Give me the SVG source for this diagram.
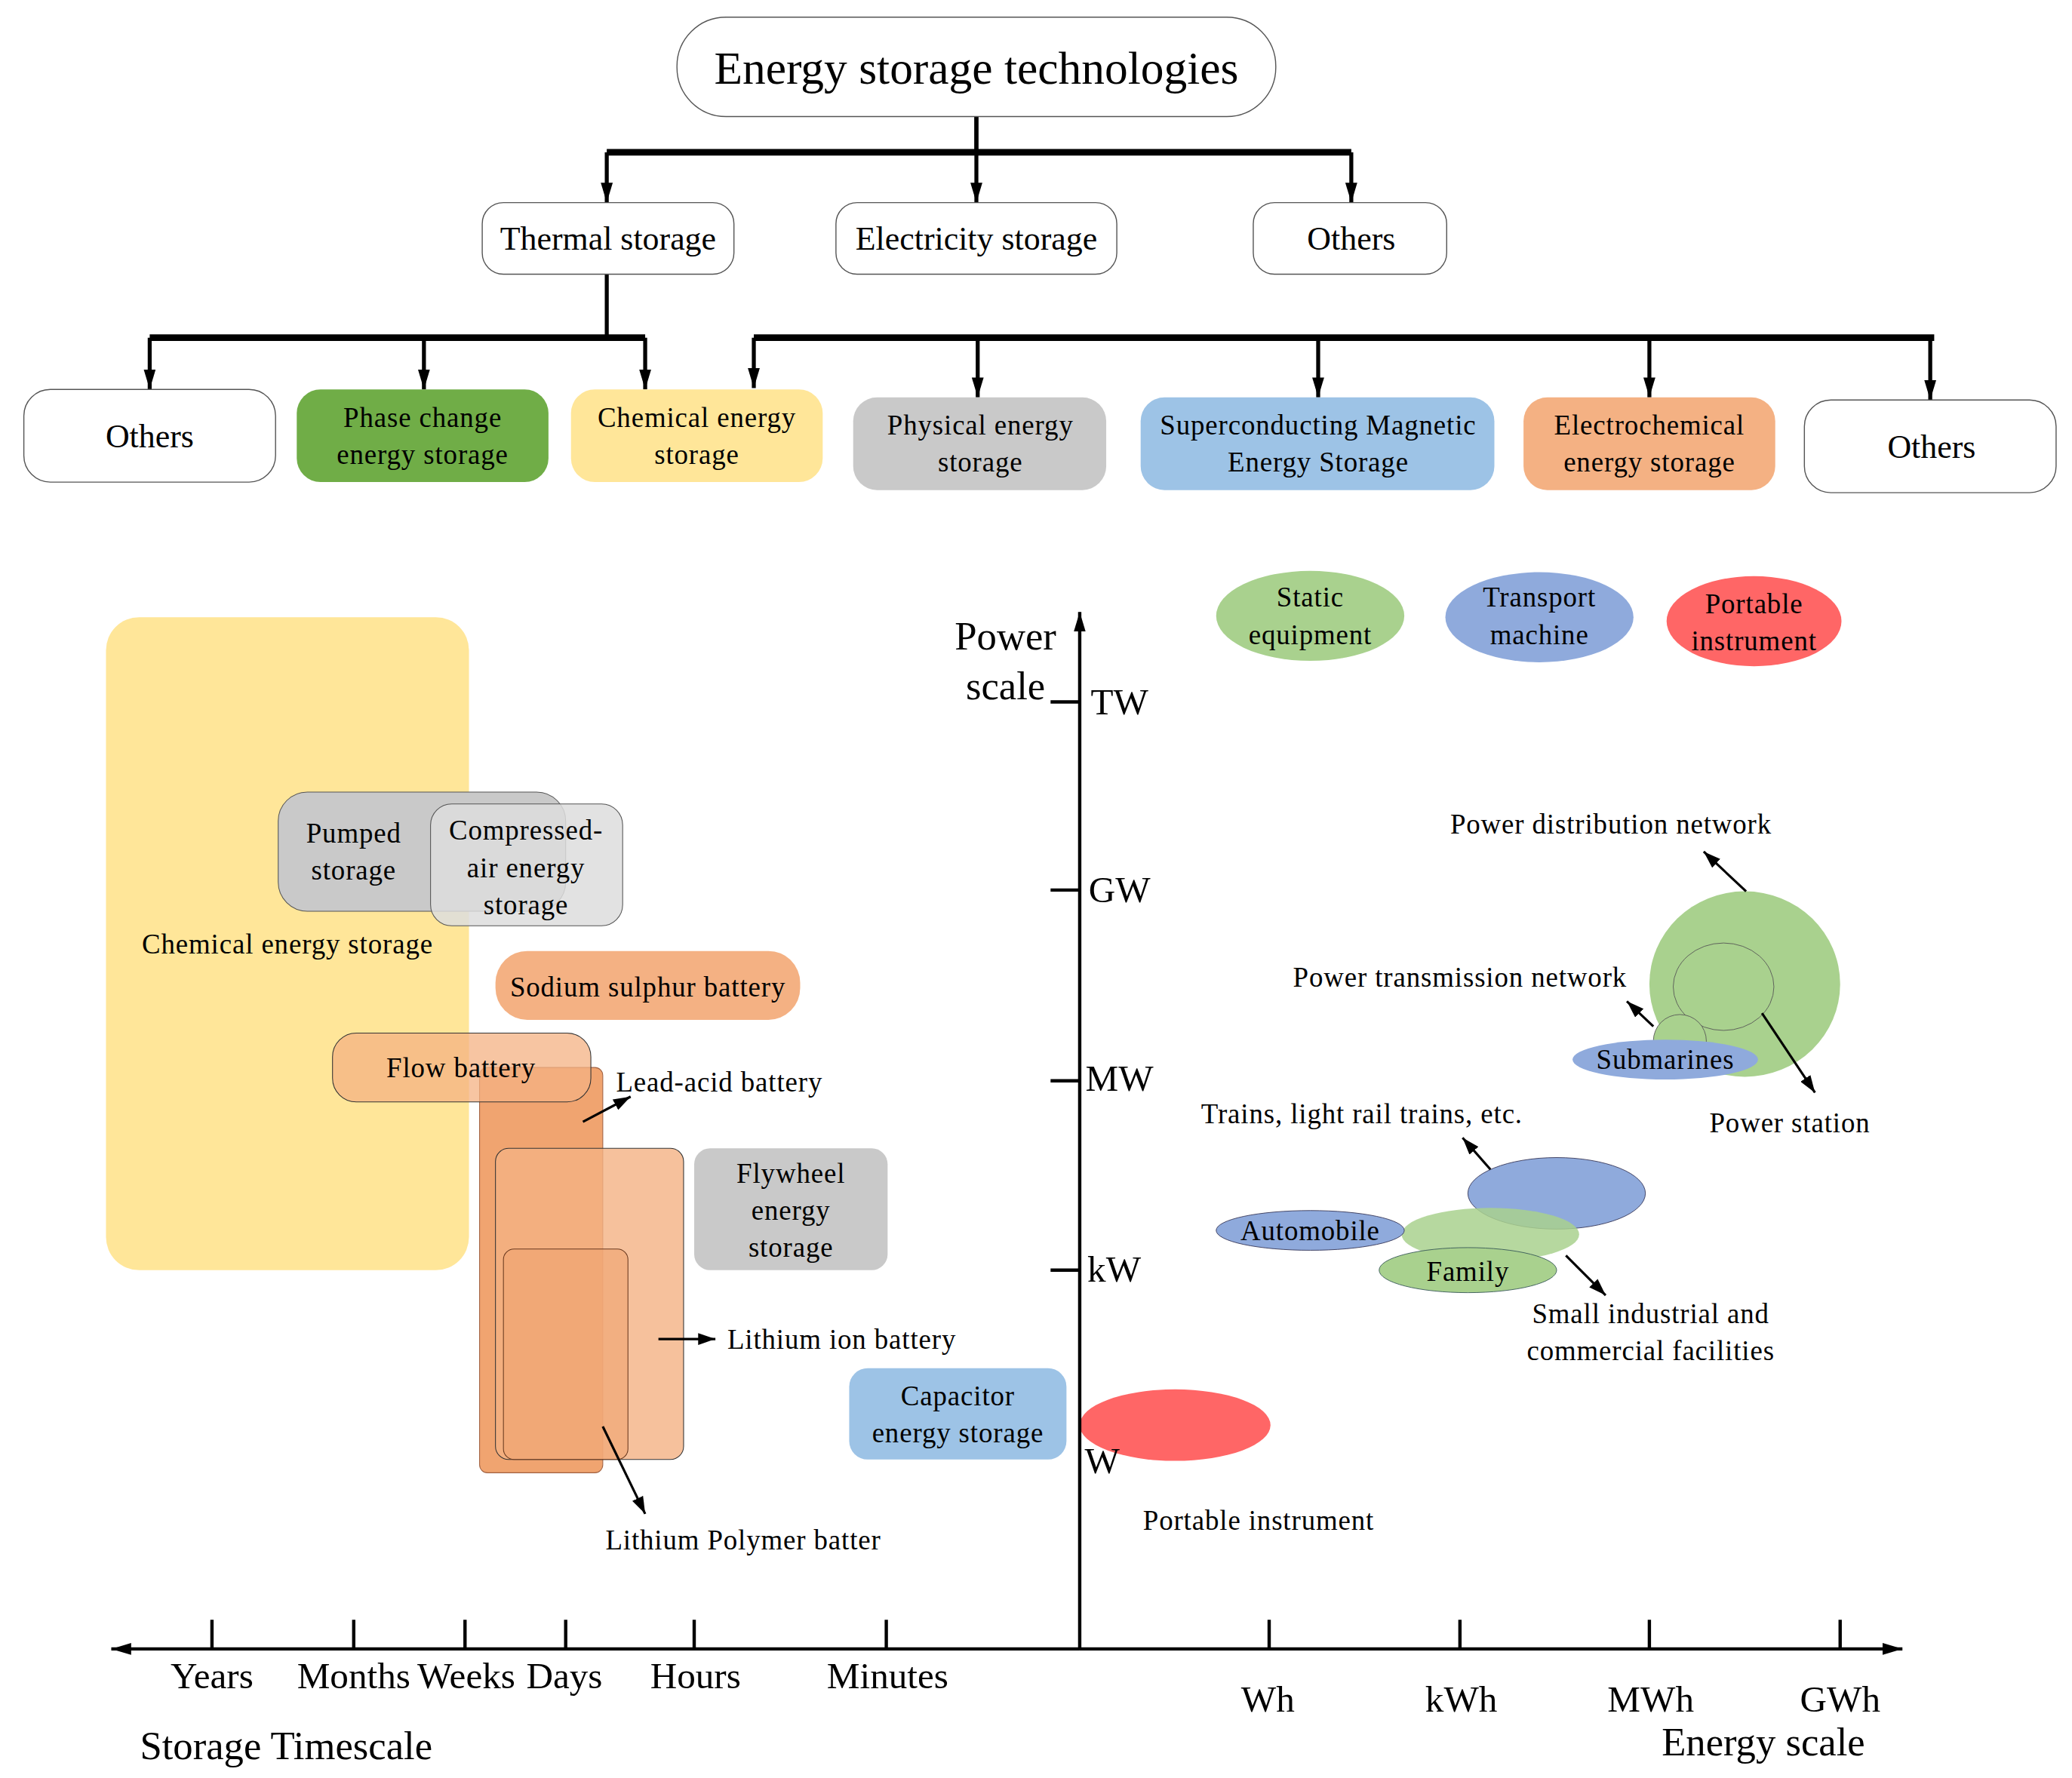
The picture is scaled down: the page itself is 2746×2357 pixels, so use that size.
<svg xmlns="http://www.w3.org/2000/svg" width="2746" height="2357" viewBox="0 0 2746 2357">
<style>
text{font-family:"Liberation Serif","Times New Roman",serif;fill:#000;text-anchor:middle;dominant-baseline:central}
.b{stroke:#555;stroke-width:0.8;fill:#fff}
.t{font-size:25px}
.s{font-size:21px;letter-spacing:0.5px}
.a{font-size:28px}
.c{stroke:#000;stroke-width:3;fill:none}
.th{stroke:#000;stroke-width:5;fill:none}
.ar{stroke:#000;stroke-width:1.8;fill:none}
</style>
<defs>
<marker id="m" viewBox="0 0 10 10" refX="10" refY="5" markerWidth="13" markerHeight="9" orient="auto" markerUnits="userSpaceOnUse" preserveAspectRatio="none"><path d="M0,0L10,5L0,10z"/></marker>
<marker id="mb" viewBox="0 0 10 10" refX="10" refY="5" markerWidth="15" markerHeight="9" orient="auto" markerUnits="userSpaceOnUse" preserveAspectRatio="none"><path d="M0,0L10,5L0,10z"/></marker>
</defs>
<rect width="2746" height="2357" fill="#fff"/>
<g transform="scale(1.75575)">
<g id="connectors">
<path class="c" d="M737,88V115"/>
<path class="th" d="M458,115H1020"/>
<path class="c" d="M458,115V153" marker-end="url(#mb)"/>
<path class="c" d="M737,88V153" marker-end="url(#mb)"/>
<path class="c" d="M1020,115V153" marker-end="url(#mb)"/>
<path class="c" d="M458,207V255"/>
<path class="th" d="M113,255H487M569,255H1460"/>
<path class="c" d="M113,255V294" marker-end="url(#mb)"/>
<path class="c" d="M320,255V294" marker-end="url(#mb)"/>
<path class="c" d="M487,255V294" marker-end="url(#mb)"/>
<path class="c" d="M569,255V293" marker-end="url(#mb)"/>
<path class="c" d="M738,255V300" marker-end="url(#mb)"/>
<path class="c" d="M995,255V300" marker-end="url(#mb)"/>
<path class="c" d="M1245,255V300" marker-end="url(#mb)"/>
<path class="c" d="M1457,255V302" marker-end="url(#mb)"/>
</g>
<g id="n0"><rect class="b" x="511" y="13" width="452" height="75" rx="37"/><text x="737" y="51" font-size="35">Energy storage technologies</text></g>
<g id="n1"><rect class="b" x="364" y="153" width="190" height="54" rx="16"/><text class="t" x="459" y="180">Thermal storage</text></g>
<g id="n2"><rect class="b" x="631" y="153" width="212" height="54" rx="16"/><text class="t" x="737" y="180">Electricity storage</text></g>
<g id="n3"><rect class="b" x="946" y="153" width="146" height="54" rx="16"/><text class="t" x="1020" y="180">Others</text></g>
<g id="n4"><rect class="b" x="18" y="294" width="190" height="70" rx="20"/><text class="t" x="113" y="329">Others</text></g>
<g id="n5"><rect x="224" y="294" width="190" height="70" rx="18" fill="#70AD47"/><text class="s" x="319" y="315">Phase change</text><text class="s" x="319" y="343">energy storage</text></g>
<g id="n6"><rect x="431" y="294" width="190" height="70" rx="18" fill="#FFE699"/><text class="s" x="526" y="315">Chemical energy</text><text class="s" x="526" y="343">storage</text></g>
<g id="n7"><rect x="644" y="300" width="191" height="70" rx="18" fill="#C9C9C9"/><text class="s" x="740" y="321">Physical energy</text><text class="s" x="740" y="349">storage</text></g>
<g id="n8"><rect x="861" y="300" width="267" height="70" rx="18" fill="#9DC3E6"/><text class="s" x="995" y="321">Superconducting Magnetic</text><text class="s" x="995" y="349">Energy Storage</text></g>
<g id="n9"><rect x="1150" y="300" width="190" height="70" rx="18" fill="#F4B183"/><text class="s" x="1245" y="321">Electrochemical</text><text class="s" x="1245" y="349">energy storage</text></g>
<g id="n10"><rect class="b" x="1362" y="302" width="190" height="70" rx="20"/><text class="t" x="1458" y="337">Others</text></g>

<g id="chart">
<rect x="80" y="466" width="274" height="493" rx="25" fill="#FFE699"/>
<text class="s" x="217" y="713">Chemical energy storage</text>
<rect x="210" y="598" width="217" height="90" rx="22" fill="#C9C9C9" stroke="#555" stroke-width="0.6"/>
<rect x="325" y="607" width="145" height="92" rx="16" fill="#DDDDDD" fill-opacity="0.85" stroke="#555" stroke-width="0.6"/>
<text class="s" x="267" y="629">Pumped</text><text class="s" x="267" y="657">storage</text>
<text class="s" x="397" y="627">Compressed-</text><text class="s" x="397" y="655">air energy</text><text class="s" x="397" y="683">storage</text>
<rect x="374" y="718" width="230" height="52" rx="24" fill="#F4B183"/>
<text class="s" x="489" y="745">Sodium sulphur battery</text>
<rect x="362" y="806" width="93" height="306" rx="6" fill="#F0A470" stroke="#A06040" stroke-width="0.6"/>
<rect x="251" y="780" width="195" height="52" rx="18" fill="#F4B183" fill-opacity="0.75" stroke="#333" stroke-width="0.6"/>
<text class="s" x="348" y="806">Flow battery</text>
<rect x="374" y="867" width="142" height="235" rx="10" fill="#F4B183" fill-opacity="0.8" stroke="#333" stroke-width="0.6"/>
<rect x="380" y="943" width="94" height="159" rx="8" fill="#F0A470" fill-opacity="0.6" stroke="#6a3a20" stroke-width="0.6"/>
<rect x="524" y="867" width="146" height="92" rx="12" fill="#C9C9C9"/>
<text class="s" x="597" y="886">Flywheel</text><text class="s" x="597" y="914">energy</text><text class="s" x="597" y="942">storage</text>
<rect x="641" y="1033" width="164" height="69" rx="14" fill="#9DC3E6"/>
<text class="s" x="723" y="1054">Capacitor</text><text class="s" x="723" y="1082">energy storage</text>
<path class="ar" d="M440,847L476,828" marker-end="url(#m)"/>
<text class="s" x="465" y="817" style="text-anchor:start">Lead-acid battery</text>
<path class="ar" d="M497,1011H540" marker-end="url(#m)"/>
<text class="s" x="549" y="1011" style="text-anchor:start">Lithium ion battery</text>
<path class="ar" d="M455,1077L487,1143" marker-end="url(#m)"/>
<text class="s" x="457" y="1163" style="text-anchor:start">Lithium Polymer batter</text>

<ellipse cx="887" cy="1076" rx="72" ry="27" fill="#FF6666"/>
<text class="s" x="950" y="1148">Portable instrument</text>
<ellipse cx="989" cy="465" rx="71" ry="34" fill="#A9D18E"/>
<text class="s" x="989" y="451">Static</text><text class="s" x="989" y="479">equipment</text>
<ellipse cx="1162" cy="466" rx="71" ry="34" fill="#8FAADC"/>
<text class="s" x="1162" y="451">Transport</text><text class="s" x="1162" y="479">machine</text>
<ellipse cx="1324" cy="469" rx="66" ry="34" fill="#FF6666"/>
<text class="s" x="1324" y="456">Portable</text><text class="s" x="1324" y="484">instrument</text>

<ellipse cx="1317" cy="743" rx="72" ry="70" fill="#A9D18E"/>
<ellipse cx="1301" cy="745" rx="38" ry="33" fill="#A9D18E" stroke="#555" stroke-width="0.5"/>
<circle cx="1268" cy="786" r="20" fill="#A9D18E" stroke="#555" stroke-width="0.5"/>
<ellipse cx="1257" cy="800" rx="70" ry="15" fill="#8FAADC"/>
<text class="s" x="1257" y="800">Submarines</text>
<path class="ar" d="M1318,673L1286,643" marker-end="url(#m)"/>
<text class="s" x="1216" y="622">Power distribution network</text>
<path class="ar" d="M1248,775L1228,756" marker-end="url(#m)"/>
<text class="s" x="1102" y="738">Power transmission network</text>
<path class="ar" d="M1330,765L1370,825" marker-end="url(#m)"/>
<text class="s" x="1351" y="848">Power station</text>

<ellipse cx="1175" cy="901" rx="67" ry="27" fill="#8FAADC" stroke="#335" stroke-width="0.5"/>
<ellipse cx="1125" cy="932" rx="67" ry="20" fill="#A9D18E" fill-opacity="0.85"/>
<ellipse cx="1108" cy="959" rx="67" ry="17" fill="#A9D18E" stroke="#355" stroke-width="0.5"/>
<text class="s" x="1108" y="960">Family</text>
<ellipse cx="989" cy="929" rx="71" ry="15" fill="#8FAADC" stroke="#335" stroke-width="0.5"/>
<text class="s" x="989" y="929">Automobile</text>
<path class="ar" d="M1125,883L1104,859" marker-end="url(#m)"/>
<text class="s" x="1028" y="841">Trains, light rail trains, etc.</text>
<path class="ar" d="M1182,948L1212,978" marker-end="url(#m)"/>
<text class="s" x="1246" y="992">Small industrial and</text>
<text class="s" x="1246" y="1020">commercial facilities</text>

<path d="M815,1245V462" stroke="#000" stroke-width="2.5" marker-end="url(#mb)"/>
<path d="M815,1245H84" stroke="#000" stroke-width="2.5" marker-end="url(#mb)"/>
<path d="M815,1245H1436" stroke="#000" stroke-width="2.5" marker-end="url(#mb)"/>
<path d="M160,1223V1245M267,1223V1245M351,1223V1245M427,1223V1245M524,1223V1245M669,1223V1245M958,1223V1245M1102,1223V1245M1245,1223V1245M1389,1223V1245M793,530H815M793,672H815M793,816H815M793,959H815" stroke="#000" stroke-width="2.5"/>
<text class="a" x="160" y="1265">Years</text>
<text class="a" x="267" y="1265">Months</text>
<text class="a" x="352" y="1265">Weeks</text>
<text class="a" x="426" y="1265">Days</text>
<text class="a" x="525" y="1265">Hours</text>
<text class="a" x="670" y="1265">Minutes</text>
<text class="a" x="957" y="1283">Wh</text>
<text class="a" x="1103" y="1283">kWh</text>
<text class="a" x="1246" y="1283">MWh</text>
<text class="a" x="1389" y="1283">GWh</text>
<text class="a" x="845" y="530">TW</text>
<text class="a" x="845" y="672">GW</text>
<text class="a" x="845" y="814">MW</text>
<text class="a" x="841" y="958">kW</text>
<text class="a" x="832" y="1103">W</text>
<text font-size="30" x="759" y="480">Power</text>
<text font-size="30" x="759" y="518">scale</text>
<text font-size="30" x="216" y="1318">Storage Timescale</text>
<text font-size="30" x="1331" y="1315">Energy scale</text>
</g>
</g>
</svg>
